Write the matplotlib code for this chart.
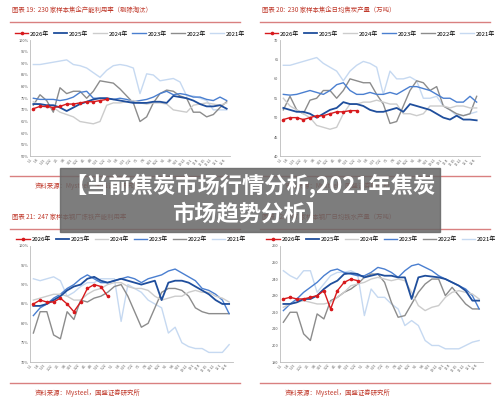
import matplotlib
matplotlib.use("Agg")
import matplotlib.pyplot as plt
from matplotlib.patches import Rectangle

plt.rcParams['font.family'] = ['Noto Sans CJK SC', 'DejaVu Sans']

years = ["2026年", "2025年", "2024年", "2023年", "2022年", "2021年"]
colors = ["#d7191c", "#1f4e9c", "#cccccc", "#4a7fd0", "#8c8c8c", "#c6d9f1"]
widths = [1.0, 1.3, 1.0, 1.0, 1.0, 1.0]
week_labels = [f"{(i*12)//30+1}-{(i*7)%28+1}" for i in range(30)]

titles = ["图表 19:  230 家样本焦企产能利用率（剔除淘汰）",
          "图表 20:  230 家样本焦企日均焦炭产量（万吨）",
          "图表 21:  247 家样本钢厂炼铁产能利用率",
          "图表 22:  247 家样本钢厂日均铁水产量（万吨）"]
source = "资料来源：Mysteel，国盛证券研究所"

tl = [
 [70.5,71.5,71.5,71,71.5,72.5,72.5,73,73.5,73.5,74,74.5],
 [72.5,72.5,72,72,71,69.5,71,72.5,73.5,74.5,75,75,74.5,74,73.5,73,73,73,73.5,73.5,73,76,75.5,75,74,72.5,71.5,71.5,72,70.5],
 [73.5,72,71,71,69,68,67,65,64.5,64,65,72,73,73,73.5,74,73,72.5,73,73,72.5,70,69.5,69,72,72.5,73,72.5,72,73],
 [75,74.5,74.5,74.5,74,74.5,75.5,77.5,78,75,75,75,74.5,75,74.5,73.5,74,74.5,75.5,77,78,76.5,77,76.5,75.5,75.5,74.5,74,75.5,74],
 [72,76.5,74,69,79.5,77,78,78,75,78,82.5,82,81.5,79,76,73,65,67,73,77,78.5,78,76,75,69,69,67,68,71,73.5],
 [89.5,89.5,90,90.5,91,91.5,89.5,89,88,86,84,87,89,89.5,89,88,77,85.5,85,82.5,83,83.5,82,76,76,75,74,70,70,70],
]
tr = [
 [49.5,50,50,49.5,50,50.5,50.5,51,51.5,51.5,51.8,51.8],
 [52.5,52,51.5,51.5,51,50,51,52,52.5,54,53.5,53.5,53,52,51.5,51.5,52,52.5,51.5,53.5,53,52.5,52,51,50,49.5,50.5,49.5,49.5,49.3],
 [55,53,52,51,50,48,47.5,47,47.5,51,53.5,53.5,54,54,54.5,54,53.5,53.5,51,51,50.5,51,53,53,53,52.5,53,53,52.5,52.5],
 [56,55.8,56,56.5,57,56.5,56,57,58.5,59,57,56,56,56.5,56,56,56.5,56,57,58,58,57.5,57,56,55,55,54,54,55.5,54],
 [52,55.5,52,51,54.5,55,57,57,55,57,60,59.5,59,59,56,53.5,48.5,49,53,57,59.5,59,57,58,53,52,51,50.5,51,55.5],
 [63.5,63.5,64,64.5,65,65.5,64,63,62,59.5,62,63.5,64.5,64,63,56,62,60,60,60.5,59.5,55,55,55.5,53,52,50.5,50.5,51,51.5],
]
bl = [
 [85,86,85.5,85.5,86.5,85,83,85.5,89,90,89.5,87],
 [84.5,84.5,85,86,87,88.5,89.5,90,91.5,92,91,90.5,91,91.5,91,90.5,90,90.5,91,86,90.5,91,91,90.5,89.5,88.5,87.5,86,85,85],
 [86,86.5,87,87.5,87.5,87,86,86,87.5,88.5,89,90,90.5,90.5,89.5,89,89,88.5,87,86,86.5,87,87,88,88.5,88,88,87,86.5,85.5],
 [82,84,85,86.5,87.5,89,90,91.5,92.5,91.5,90.5,90.5,91,91.5,92,91.5,90.5,91.5,92,92.5,93.5,94,93,92,91,89,88.5,87.5,86,82.5],
 [77.5,83,83,77,76,83,81,86,85.5,86.5,87,88,89.5,90,87,83,79,80,84,88,89,89,88.5,87,84,83,82.5,82.5,82.5,82.5],
 [91.5,91,91.5,92,91,87,88,89.5,90.5,90.5,91.5,91.5,91.5,80.5,90,89,88,86,85,84,77.5,79,75,74,73.5,73.5,72.5,72.5,72.5,74.5],
]
br = [
 [228,229,228,228,229,230,233,222,233,238,240,239],
 [225,225,226,228,228,230,234,237,239,243,243.5,243,241,242,243,242,242,241,241,228,241,242,241.5,241,240,238,236,233,227,227],
 [223,225,226,227,226,225,225,226,229,232,236,237,238,240,241,240,239,240,239,232,224,221,223,224,229,232,233,232,231,228],
 [221,225,228,232,235,238,242,245,246,244,243,242,242,244,247,246,244,241,245,248,249,247,245,242,240,238,236,234,230,222],
 [214,220,220,207,203,219,216,227,229,232,234,237,241,243,243,238,226,217,218,225,232,237,240,240,230,235,230,225,222,222],
 [245,242,240,245,245,232,237,242,244,244,245,243,218,234,229,229,225,222,212,215,212,203,200,200,198,198,198,200,202,203],
]

panels = [
 (tl, (50, 100, 5), True, [0.06, 0.61, 0.40, 0.29]),
 (tr, (40, 70, 5), False, [0.56, 0.61, 0.40, 0.29]),
 (bl, (70, 100, 5), True, [0.06, 0.097, 0.405, 0.29]),
 (br, (190, 260, 10), False, [0.56, 0.097, 0.405, 0.29]),
]
title_y = [0.985, 0.985, 0.468, 0.468]
title_x = [0.02, 0.52, 0.02, 0.52]

fig = plt.figure(figsize=(5, 4.01), dpi=100)
fig.patch.set_facecolor("white")

for k, (data, (lo, hi, st), pct, rect) in enumerate(panels):
    ax = fig.add_axes(rect)
    for i, s in enumerate(reversed(data)):
        j = 5 - i
        kw = dict(marker="o", markersize=1.6) if j == 0 else {}
        ax.plot(range(len(s)), s, color=colors[j], lw=widths[j], label=years[j], zorder=3 + (j == 0) * 3 + (j == 1), **kw)
    ax.set_ylim(lo, hi)
    ax.set_xlim(-0.5, 29.5)
    ticks = list(range(lo, hi + 1, st))
    ax.set_yticks(ticks)
    ax.set_yticklabels([f"{t}%" if pct else str(t) for t in ticks], fontsize=2.8, color="#555")
    ax.set_xticks(range(30))
    ax.set_xticklabels(week_labels, fontsize=2.3, rotation=50, color="#555", ha="right")
    ax.tick_params(length=0, pad=1)
    for sp in ["top", "right"]:
        ax.spines[sp].set_visible(False)
    for sp in ["left", "bottom"]:
        ax.spines[sp].set_color("#bbbbbb")
        ax.spines[sp].set_linewidth(0.6)
    h, l = ax.get_legend_handles_labels()
    order = [l.index(y) for y in years]
    ax.legend([h[o] for o in order], years, loc="lower center", bbox_to_anchor=(0.5, 1.01), ncol=6,
              fontsize=4.3, frameon=False, handlelength=2.2, columnspacing=0.8, handletextpad=0.3, borderaxespad=0)
    tx, ty = title_x[k], title_y[k]
    fig.text(tx + 0.005, ty, titles[k], fontsize=4.6, color="#c0392b", style="italic", va="top")
    fig.add_artist(plt.Line2D([tx, tx + 0.46], [ty - 0.04, ty - 0.04], color="#d98080", lw=1.0))
    sy = 0.545 if k < 2 else 0.03
    fig.add_artist(plt.Line2D([tx, tx + 0.46], [sy + 0.015, sy + 0.015], color="#d98080", lw=1.0))
    fig.text(tx + 0.05, sy, source, fontsize=4.6, color="#c0392b", style="italic", va="top")

# banner
fig.add_artist(Rectangle((0.12, 0.422), 0.76, 0.158, transform=fig.transFigure, color="#666666", alpha=0.85, zorder=20))
fig.text(0.5, 0.537, "【当前焦炭市场行情分析,2021年焦炭", fontsize=16, color="white", weight="bold", ha="center", va="center", zorder=21)
fig.text(0.5, 0.465, "市场趋势分析】", fontsize=16, color="white", weight="bold", ha="center", va="center", zorder=21)

fig.savefig("out.png", dpi=100)
